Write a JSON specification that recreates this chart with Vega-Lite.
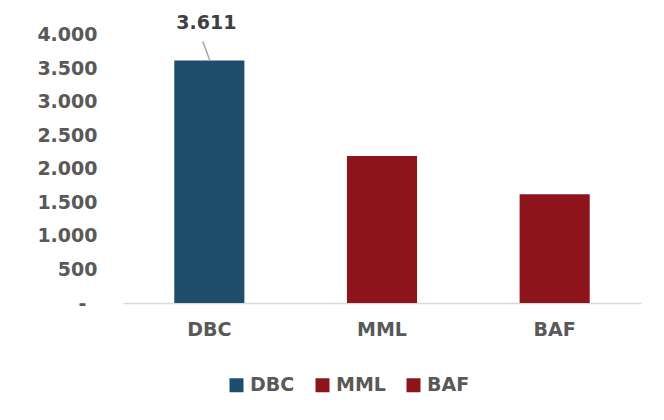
{
  "$schema": "https://vega.github.io/schema/vega-lite/v6.json",
  "autosize": {"type": "none"},
  "width": 518,
  "height": 268.5,
  "padding": {"left": 123, "top": 34.5, "right": 23, "bottom": 117},
  "background": "#ffffff",
  "config": {
    "view": {"stroke": null},
    "font": "DejaVu Sans",
    "locale": {"number": {"decimal": ",", "thousands": ".", "grouping": [3], "currency": ["", ""]}},
    "axis": {"labelFont": "DejaVu Sans", "labelFontWeight": "bold", "labelColor": "#595959", "labelFontSize": 19},
    "legend": {"labelFont": "DejaVu Sans", "labelFontWeight": "bold", "labelColor": "#595959", "labelFontSize": 19}
  },
  "data": {
    "values": [
      {"Company": "DBC", "Value": 3611},
      {"Company": "MML", "Value": 2190},
      {"Company": "BAF", "Value": 1620}
    ]
  },
  "encoding": {
    "x": {
      "field": "Company",
      "type": "nominal",
      "sort": ["DBC", "MML", "BAF"],
      "scale": {"paddingInner": 0.594, "paddingOuter": 0.297},
      "axis": {"title": null, "labelAngle": 0, "ticks": false, "domainColor": "#D9D9D9", "domainWidth": 1.5, "labelPadding": 17}
    },
    "y": {
      "field": "Value",
      "type": "quantitative",
      "scale": {"domain": [0, 4000], "nice": false},
      "axis": {
        "title": null,
        "values": [0, 500, 1000, 1500, 2000, 2500, 3000, 3500, 4000],
        "grid": false,
        "ticks": false,
        "domain": false,
        "labelOverlap": false,
        "labelPadding": {"condition": {"test": "datum.value == 0", "value": 37}, "value": 26},
        "format": ",.0f",
        "labelExpr": "datum.value == 0 ? '-' : datum.label"
      }
    }
  },
  "layer": [
    {
      "mark": {"type": "bar"},
      "encoding": {
        "color": {
          "field": "Company",
          "type": "nominal",
          "scale": {"domain": ["DBC", "MML", "BAF"], "range": ["#1D4E6C", "#8E141C", "#8E141C"]},
          "legend": {
            "title": null,
            "orient": "none",
            "direction": "horizontal",
            "legendX": 104,
            "legendY": 341,
            "symbolType": "square",
            "symbolSize": 196,
            "symbolStrokeWidth": 0,
            "symbolOpacity": 1,
            "labelOffset": 4,
            "columnPadding": 18
          }
        }
      }
    },
    {
      "transform": [{"filter": "datum.Company == 'DBC'"}],
      "mark": {"type": "rule", "color": "#A6A6A6", "strokeWidth": 1.5, "xOffset": 0.5, "x2Offset": -6.5, "y2Offset": -19},
      "encoding": {
        "x2": {"field": "Company"},
        "y2": {"field": "Value"}
      }
    },
    {
      "transform": [{"filter": "datum.Company == 'DBC'"}],
      "mark": {"type": "text", "font": "DejaVu Sans", "fontWeight": "bold", "fontSize": 19, "color": "#404040", "dy": -38, "dx": -3, "baseline": "middle"},
      "encoding": {
        "text": {"field": "Value", "type": "quantitative", "format": ",.0f"}
      }
    }
  ]
}
